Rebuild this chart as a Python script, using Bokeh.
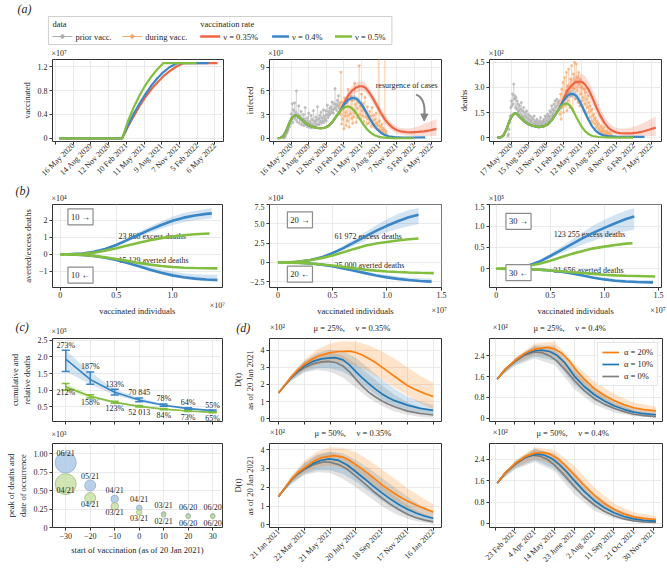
import math
from bokeh.plotting import figure
from bokeh.layouts import column, row
from bokeh.models import (Range1d, FixedTicker, Label, Legend, LegendItem,
                          ColumnDataSource, Whisker, TeeHead, Arrow, NormalHead)
from bokeh.embed import file_html
from bokeh.resources import INLINE
from bokeh.core.properties import value

# ======================= DATA =======================
# (a) time axis: days since 16 May 2020
a_ticks = [-90, 0, 90, 180, 270, 360, 450, 540, 630, 720]
a_tick_labels = ["", "16 May 2020", "14 Aug 2020", "12 Nov 2020", "10 Feb 2021", "11 May 2021",
                 "9 Aug 2021", "7 Nov 2021", "5 Feb 2022", "6 May 2022"]
a3_ticks = [-89, 1, 91, 181, 271, 361, 451, 541, 631, 721]
a3_tick_labels = ["", "17 May 2020", "15 Aug 2020", "13 Nov 2020", "11 Feb 2021", "12 May 2021",
                  "10 Aug 2021", "8 Nov 2021", "6 Feb 2022", "7 May 2022"]

# vaccinated (x10^7)
vacc_pre_days = [-70, 249]
vacc_pre = [0.0, 0.0]
vacc_035_days = [249, 279, 309, 339, 369, 399, 429, 459, 489, 519, 561, 734]
vacc_035 = [0, 0.20, 0.38, 0.55, 0.70, 0.83, 0.94, 1.04, 1.12, 1.19, 1.26, 1.26]
vacc_04_days = [249, 279, 309, 339, 369, 399, 429, 459, 489, 530, 688]
vacc_04 = [0, 0.22, 0.42, 0.59, 0.75, 0.89, 1.01, 1.11, 1.19, 1.26, 1.26]
vacc_05_days = [249, 279, 309, 339, 369, 399, 429, 459, 627]
vacc_05 = [0, 0.29, 0.53, 0.73, 0.90, 1.04, 1.16, 1.26, 1.26]

# observed infected (x10^3)
prior_inf_days = list(range(-40, 249, 3))
prior_inf = [0.05, 0.1, 0.2, 0.3, 0.5, 0.8, 0.7, 1.2, 1.0, 1.6,
             1.4, 2.2, 1.8, 3.1, 2.5, 4.4, 2.0, 3.6, 2.7, 4.5,
             2.4, 3.3, 6.0, 2.1, 3.0, 2.6, 4.1, 1.9, 2.8, 2.3,
             3.4, 1.7, 2.5, 2.0, 3.0, 1.6, 2.4, 3.9, 1.8, 2.2,
             1.5, 2.6, 1.9, 3.2, 1.4, 2.1, 1.8, 2.9, 1.3, 2.4,
             1.7, 3.5, 1.5, 2.2, 1.9, 2.7, 1.6, 2.3, 4.0, 1.8,
             2.5, 1.7, 2.9, 2.1, 3.3, 1.9, 2.6, 2.2, 3.6, 2.0,
             2.8, 2.4, 3.5, 2.2, 3.0, 4.2, 2.6, 3.4, 2.9, 3.8,
             3.1, 4.0, 3.3, 4.6, 3.6, 3.2, 4.4, 3.7, 6.3, 3.9,
             4.3, 3.5, 4.8, 4.1, 5.4, 3.8, 4.5]
during_inf_days = list(range(249, 490, 3))
during_inf = [4.2, 3.0, 8.4, 1.8, 4.6, 2.4, 3.7, 1.2, 5.1, 2.8,
              3.3, 1.6, 4.5, 2.2, 6.2, 2.9, 1.4, 4.0, 3.1, 5.3,
              2.5, 4.8, 1.9, 3.6, 2.7, 7.0, 3.2, 4.3, 2.0, 5.0,
              3.8, 2.6, 4.6, 9.2, 3.0, 4.1, 2.4, 5.6, 3.5, 2.8,
              4.4, 2.1, 3.6, 5.2, 2.7, 3.3, 1.8, 4.0, 2.5, 3.0,
              1.9, 3.4, 2.3, 2.8, 1.5, 3.9, 2.2, 1.7, 2.9, 1.4,
              2.4, 1.8, 3.2, 1.2, 2.0, 1.6, 12.0, 1.1, 2.2, 0.9,
              1.5, 1.0, 1.8, 0.7, 1.3, 0.8, 1.1, 12.0, 0.6, 0.9,
              0.5]

# observed deaths (x10^2)
prior_dth_days = list(range(-16, 249, 3))
prior_dth = [0.1, 0.2, 0.5, 0.9, 1.3, 1.8, 2.2, 1.9, 2.6, 2.0,
             3.2, 2.3, 2.5, 1.8, 2.4, 1.7, 2.2, 1.5, 2.0, 1.6,
             1.9, 1.4, 1.7, 2.1, 1.3, 1.6, 1.2, 1.8, 1.1, 1.5,
             1.3, 1.0, 1.6, 1.2, 0.9, 1.4, 1.1, 0.8, 1.3, 1.0,
             0.9, 1.2, 0.7, 1.1, 0.8, 1.3, 0.9, 0.7, 1.0, 0.8,
             1.1, 0.7, 0.9, 0.6, 1.0, 0.8, 1.2, 0.7, 0.9, 0.8,
             1.0, 0.7, 1.1, 0.9, 1.3, 0.8, 1.2, 1.0, 1.4, 0.9,
             1.3, 1.1, 1.6, 1.2, 1.5, 1.9, 1.3, 1.7, 1.4, 2.0,
             1.6, 2.2, 1.8, 1.5, 2.3, 1.9, 2.1, 1.7, 2.2]
during_dth_days = list(range(249, 520, 3))
during_dth = [2.0, 1.4, 2.6, 1.1, 2.9, 1.8, 3.3, 1.5, 2.4, 3.6,
              1.9, 2.8, 3.9, 1.6, 3.1, 2.2, 4.1, 2.7, 1.8, 3.5,
              2.5, 4.3, 3.0, 1.7, 3.8, 2.9, 4.5, 2.3, 3.4, 4.4,
              2.8, 3.6, 2.1, 3.9, 3.2, 1.9, 3.5, 2.6, 3.0, 2.2,
              3.3, 2.4, 1.6, 2.9, 2.0, 2.7, 1.4, 2.3, 1.8, 2.5,
              1.5, 2.1, 1.2, 1.9, 1.6, 1.0, 1.7, 1.3, 0.9, 1.4,
              1.1, 0.8, 1.2, 0.6, 1.0, 0.7, 0.9, 0.5, 0.8, 0.4,
              0.6, 0.3, 0.7, 0.4, 0.5, 0.3, 0.6, 0.2, 0.4, 0.3,
              0.2, 0.4, 0.1, 0.3, 0.2, 0.1, 0.3, 0.1, 0.2, 0.1,
              0.1]

# model infected (x10^3)
inf_fit_days = [-70, -55, -40, -25, -10, 5, 20, 35, 50, 70, 90, 110, 130, 150, 170, 190, 210, 230, 249]
inf_fit = [0.0, 0.05, 0.35, 1.05, 1.95, 2.65, 2.92, 2.78, 2.45, 2.0, 1.65, 1.43, 1.31, 1.27, 1.32, 1.55, 2.05, 2.75, 3.4]
inf_05_days = [249, 262, 277, 293, 310, 330, 350, 370, 390, 410, 430, 450, 480, 520, 570, 628]
inf_05 = [3.4, 3.75, 3.97, 4.02, 3.85, 3.3, 2.5, 1.75, 1.1, 0.65, 0.35, 0.18, 0.07, 0.02, 0.0, 0.0]
inf_04_days = [249, 270, 290, 310, 323, 340, 360, 380, 400, 420, 440, 460, 480, 500, 530, 570, 620, 687]
inf_04 = [3.4, 4.25, 4.85, 5.1, 5.12, 4.9, 4.3, 3.5, 2.6, 1.8, 1.15, 0.7, 0.4, 0.25, 0.15, 0.1, 0.1, 0.12]
inf_04_lo = [3.35, 4.05, 4.55, 4.75, 4.75, 4.55, 3.95, 3.2, 2.35, 1.6, 1.0, 0.58, 0.32, 0.18, 0.1, 0.06, 0.05, 0.05]
inf_04_hi = [3.45, 4.45, 5.15, 5.45, 5.5, 5.25, 4.65, 3.8, 2.85, 2.0, 1.3, 0.82, 0.5, 0.33, 0.22, 0.16, 0.17, 0.2]
inf_035_days = [249, 270, 290, 310, 330, 350, 365, 380, 400, 420, 440, 460, 480, 500, 520, 540, 560, 590, 620, 650, 680, 710, 745]
inf_035 = [3.4, 4.45, 5.35, 6.0, 6.4, 6.6, 6.6, 6.4, 5.8, 5.0, 4.1, 3.2, 2.4, 1.8, 1.35, 1.05, 0.88, 0.77, 0.75, 0.8, 0.88, 1.0, 1.2]
inf_035_lo = [3.35, 4.2, 4.9, 5.4, 5.8, 6.0, 6.0, 5.8, 5.2, 4.4, 3.5, 2.6, 1.9, 1.3, 0.9, 0.6, 0.45, 0.35, 0.3, 0.3, 0.3, 0.3, 0.3]
inf_035_hi = [3.45, 4.75, 5.85, 6.6, 7.0, 7.2, 7.2, 7.0, 6.4, 5.6, 4.7, 3.8, 3.0, 2.35, 1.85, 1.5, 1.32, 1.25, 1.3, 1.5, 1.8, 2.1, 2.4]

# model deaths (x10^2)
dth_fit_days = [-70, -55, -40, -25, -10, 5, 18, 30, 50, 70, 90, 110, 130, 150, 170, 190, 210, 230, 249]
dth_fit = [0.0, 0.01, 0.12, 0.45, 0.95, 1.3, 1.45, 1.42, 1.18, 0.96, 0.8, 0.71, 0.66, 0.64, 0.68, 0.8, 1.05, 1.4, 1.75]
dth_05_days = [249, 262, 276, 289, 305, 320, 340, 360, 380, 400, 420, 450, 500, 560, 628]
dth_05 = [1.75, 1.93, 2.03, 2.05, 1.9, 1.6, 1.15, 0.72, 0.4, 0.2, 0.1, 0.04, 0.01, 0.0, 0.0]
dth_04_days = [249, 270, 290, 305, 318, 335, 355, 375, 395, 415, 435, 455, 475, 500, 540, 600, 687]
dth_04 = [1.75, 2.2, 2.5, 2.6, 2.62, 2.5, 2.15, 1.65, 1.15, 0.72, 0.42, 0.24, 0.14, 0.09, 0.06, 0.05, 0.05]
dth_04_lo = [1.72, 2.1, 2.33, 2.4, 2.4, 2.27, 1.93, 1.46, 1.0, 0.6, 0.33, 0.17, 0.09, 0.05, 0.03, 0.02, 0.02]
dth_04_hi = [1.78, 2.3, 2.67, 2.8, 2.84, 2.73, 2.37, 1.84, 1.3, 0.84, 0.51, 0.31, 0.19, 0.13, 0.09, 0.08, 0.09]
dth_035_days = [249, 270, 290, 310, 330, 350, 365, 380, 400, 420, 440, 460, 480, 500, 520, 540, 560, 590, 620, 650, 680, 710, 745]
dth_035 = [1.75, 2.3, 2.8, 3.1, 3.3, 3.35, 3.33, 3.2, 2.85, 2.35, 1.8, 1.3, 0.9, 0.6, 0.42, 0.32, 0.27, 0.25, 0.26, 0.3, 0.37, 0.47, 0.6]
dth_035_lo = [1.72, 2.1, 2.5, 2.75, 2.9, 2.95, 2.9, 2.75, 2.4, 1.9, 1.4, 0.95, 0.6, 0.38, 0.24, 0.16, 0.12, 0.1, 0.1, 0.1, 0.1, 0.1, 0.1]
dth_035_hi = [1.78, 2.5, 3.1, 3.5, 3.7, 3.8, 3.8, 3.7, 3.35, 2.85, 2.3, 1.75, 1.3, 0.95, 0.72, 0.6, 0.55, 0.55, 0.6, 0.72, 0.88, 1.05, 1.25]

# (b) averted / excess deaths vs vaccinated individuals (x10^7)
b1_b_up_x = [0.07, 0.2, 0.3, 0.4, 0.5, 0.6, 0.7, 0.8, 0.9, 1.0, 1.1, 1.2, 1.3, 1.35]
b1_b_up = [0, 0.05, 0.15, 0.32, 0.55, 0.85, 1.15, 1.45, 1.72, 1.97, 2.15, 2.28, 2.37, 2.4]
b1_b_up_lo = [0, 0.04, 0.13, 0.28, 0.48, 0.75, 1.01, 1.27, 1.5, 1.72, 1.88, 2.0, 2.07, 2.1]
b1_b_up_hi = [0, 0.06, 0.17, 0.36, 0.62, 0.95, 1.29, 1.63, 1.94, 2.22, 2.42, 2.56, 2.66, 2.7]
b1_b_dn_x = [0.07, 0.2, 0.3, 0.4, 0.5, 0.6, 0.7, 0.8, 0.9, 1.0, 1.1, 1.2, 1.3, 1.4]
b1_b_dn = [0, -0.04, -0.1, -0.2, -0.33, -0.5, -0.7, -0.9, -1.08, -1.23, -1.34, -1.42, -1.47, -1.5]
b1_b_dn_lo = [0, -0.045, -0.11, -0.22, -0.36, -0.54, -0.75, -0.96, -1.16, -1.32, -1.44, -1.52, -1.57, -1.6]
b1_b_dn_hi = [0, -0.03, -0.08, -0.16, -0.26, -0.4, -0.56, -0.72, -0.87, -1.0, -1.1, -1.16, -1.19, -1.2]
b1_g_up_x = [0, 0.1, 0.2, 0.3, 0.4, 0.5, 0.6, 0.7, 0.8, 0.9, 1.0, 1.1, 1.2, 1.33]
b1_g_up = [0, 0.01, 0.04, 0.1, 0.22, 0.36, 0.52, 0.68, 0.83, 0.95, 1.05, 1.12, 1.18, 1.22]
b1_g_dn_x = [0, 0.1, 0.2, 0.3, 0.4, 0.5, 0.6, 0.7, 0.8, 0.9, 1.0, 1.1, 1.2, 1.3, 1.4]
b1_g_dn = [0, -0.01, -0.04, -0.09, -0.17, -0.27, -0.38, -0.5, -0.6, -0.68, -0.74, -0.78, -0.8, -0.81, -0.82]

b2_b_up_x = [0.15, 0.3, 0.4, 0.5, 0.6, 0.7, 0.8, 0.9, 1.0, 1.1, 1.2, 1.29]
b2_b_up = [0, 0.3, 0.65, 1.2, 1.85, 2.6, 3.35, 4.1, 4.75, 5.35, 5.85, 6.2]
b2_b_up_lo = [0, 0.27, 0.57, 1.04, 1.58, 2.2, 2.8, 3.4, 3.9, 4.35, 4.7, 5.0]
b2_b_up_hi = [0, 0.33, 0.73, 1.36, 2.12, 3.0, 3.9, 4.8, 5.6, 6.3, 6.8, 7.05]
b2_b_dn_x = [0.15, 0.3, 0.4, 0.5, 0.6, 0.7, 0.8, 0.9, 1.0, 1.1, 1.2, 1.3, 1.41]
b2_b_dn = [0, -0.15, -0.3, -0.5, -0.8, -1.1, -1.4, -1.7, -1.95, -2.15, -2.3, -2.42, -2.5]
b2_b_dn_lo = [0, -0.16, -0.33, -0.55, -0.86, -1.18, -1.5, -1.82, -2.08, -2.3, -2.45, -2.57, -2.65]
b2_b_dn_hi = [0, -0.13, -0.26, -0.42, -0.68, -0.94, -1.2, -1.45, -1.66, -1.83, -1.96, -2.05, -2.1]
b2_g_up_x = [0, 0.1, 0.2, 0.3, 0.4, 0.5, 0.6, 0.7, 0.8, 0.9, 1.0, 1.1, 1.2, 1.29]
b2_g_up = [0, 0.02, 0.1, 0.3, 0.55, 0.9, 1.3, 1.75, 2.15, 2.45, 2.65, 2.85, 3.0, 3.1]
b2_g_dn_x = [0, 0.2, 0.3, 0.4, 0.5, 0.6, 0.7, 0.8, 0.9, 1.0, 1.1, 1.2, 1.3, 1.43]
b2_g_dn = [0, -0.07, -0.15, -0.28, -0.42, -0.6, -0.78, -0.95, -1.08, -1.18, -1.26, -1.32, -1.36, -1.4]

b3_b_up_x = [0.1, 0.2, 0.3, 0.4, 0.5, 0.6, 0.7, 0.8, 0.9, 1.0, 1.1, 1.2, 1.276]
b3_b_up = [0, 0.03, 0.08, 0.17, 0.3, 0.44, 0.58, 0.72, 0.85, 0.96, 1.07, 1.17, 1.23]
b3_b_up_lo = [0, 0.025, 0.07, 0.14, 0.25, 0.36, 0.47, 0.57, 0.66, 0.74, 0.81, 0.88, 0.92]
b3_b_up_hi = [0, 0.035, 0.09, 0.2, 0.35, 0.52, 0.69, 0.86, 1.02, 1.15, 1.27, 1.37, 1.42]
b3_b_dn_x = [0.1, 0.3, 0.4, 0.5, 0.6, 0.7, 0.8, 0.9, 1.0, 1.1, 1.2, 1.3, 1.45]
b3_b_dn = [0, -0.01, -0.02, -0.04, -0.07, -0.11, -0.16, -0.21, -0.25, -0.28, -0.3, -0.31, -0.32]
b3_b_dn_lo = [0, -0.011, -0.022, -0.044, -0.077, -0.12, -0.175, -0.23, -0.275, -0.31, -0.33, -0.34, -0.35]
b3_b_dn_hi = [0, -0.008, -0.017, -0.034, -0.06, -0.094, -0.136, -0.18, -0.21, -0.24, -0.255, -0.265, -0.27]
b3_g_up_x = [0, 0.1, 0.2, 0.3, 0.4, 0.5, 0.6, 0.7, 0.8, 0.9, 1.0, 1.1, 1.2, 1.26]
b3_g_up = [0, 0.01, 0.03, 0.07, 0.12, 0.19, 0.27, 0.35, 0.42, 0.48, 0.52, 0.56, 0.59, 0.6]
b3_g_dn_x = [0, 0.3, 0.4, 0.5, 0.6, 0.7, 0.8, 0.9, 1.0, 1.1, 1.2, 1.3, 1.47]
b3_g_dn = [0, -0.01, -0.02, -0.04, -0.06, -0.08, -0.1, -0.12, -0.14, -0.155, -0.165, -0.17, -0.18]

# (c) start of vaccination (days relative to 20 Jan 2021)
c_start = [-30, -20, -10, 0, 10, 20, 30]
c_blue = [1.934, 1.325, 0.942, 0.708, 0.553, 0.453, 0.390]      # x10^5
c_blue_lo = [1.56, 1.18, 0.86, 0.66, 0.52, 0.43, 0.37]
c_blue_hi = [2.20, 1.55, 1.03, 0.77, 0.59, 0.48, 0.41]
c_green = [1.103, 0.822, 0.640, 0.520, 0.437, 0.380, 0.338]
c_green_lo = [1.00, 0.77, 0.61, 0.50, 0.42, 0.365, 0.325]
c_green_hi = [1.20, 0.87, 0.67, 0.545, 0.455, 0.395, 0.352]
c_blue_pct = ["273%", "187%", "133%", "70 845", "78%", "64%", "55%"]
c_green_pct = ["212%", "158%", "123%", "52 013", "84%", "73%", "65%"]
c_peak_blue = [0.88, 0.57, 0.387, 0.266, 0.184, 0.158, 0.158]   # x10^3
c_peak_green = [0.588, 0.40, 0.287, 0.206, 0.171, 0.15, 0.15]
c_date_blue = ["06/21", "05/21", "04/21", "04/21", "03/21", "06/20", "06/20"]
c_date_green = ["04/21", "04/21", "03/21", "03/21", "02/21", "06/20", "06/20"]
bubble_size = [21, 11, 7.5, 5.5, 4.5, 4.5, 4.5]

# (d) D(t), x10^2
d13_ticks = [0, 60, 120, 180, 240, 300, 360]      # days since 21 Jan 2021
d13_labels = ["21 Jan 2021", "22 Mar 2021", "21 May 2021", "20 July 2021",
              "18 Sep 2021", "17 Nov 2021", "16 Jan 2022"]
d24_ticks = [0, 40, 80, 120, 160, 200, 240, 280, 320]  # days since 14 Jan 2021
d24_labels = ["", "23 Feb 2021", "4 Apr 2021", "14 May 2021", "23 June 2021",
              "2 Aug 2021", "11 Sep 2021", "21 Oct 2021", "30 Nov 2021"]

d1_gr_x = [0, 15, 30, 45, 60, 80, 100, 116, 135, 150, 165, 180, 195, 210, 225, 240, 255, 270, 300, 330, 360]
d1_gr = [1.5, 1.95, 2.38, 2.72, 2.98, 3.2, 3.32, 3.35, 3.27, 3.08, 2.75, 2.3, 1.9, 1.55, 1.28, 1.05, 0.85, 0.69, 0.44, 0.3, 0.21]
d1_bl_x = [0, 15, 30, 45, 60, 80, 100, 120, 132, 150, 165, 180, 195, 210, 225, 240, 255, 270, 300, 330, 360]
d1_bl = [1.5, 1.97, 2.42, 2.8, 3.08, 3.35, 3.5, 3.56, 3.57, 3.44, 3.15, 2.75, 2.38, 2.05, 1.74, 1.46, 1.24, 1.05, 0.79, 0.6, 0.48]
d1_or_x = [0, 15, 30, 45, 60, 80, 100, 120, 140, 166, 180, 195, 210, 225, 240, 255, 270, 285, 300, 315, 330, 345, 360]
d1_or = [1.5, 1.98, 2.45, 2.85, 3.17, 3.5, 3.72, 3.86, 3.93, 3.95, 3.87, 3.72, 3.52, 3.3, 3.03, 2.75, 2.48, 2.2, 1.94, 1.75, 1.58, 1.43, 1.29]
d13_band_x = [0, 30, 60, 90, 120, 150, 180, 210, 240, 270, 300, 330, 360]
d1_or_lo = [1.5, 2.3, 2.85, 3.15, 3.3, 3.3, 3.1, 2.75, 2.3, 1.8, 1.35, 0.9, 0.55]
d1_or_hi = [1.5, 2.6, 3.45, 4.05, 4.4, 4.55, 4.5, 4.3, 3.95, 3.5, 3.0, 2.5, 2.1]
d1_bl_lo = [1.5, 2.25, 2.75, 2.95, 2.95, 2.75, 2.3, 1.7, 1.15, 0.75, 0.48, 0.32, 0.22]
d1_bl_hi = [1.5, 2.55, 3.35, 3.85, 4.05, 3.95, 3.55, 2.95, 2.3, 1.75, 1.3, 1.0, 0.8]
d1_gr_lo = [1.5, 2.2, 2.7, 2.85, 2.75, 2.4, 1.8, 1.2, 0.75, 0.42, 0.22, 0.1, 0.05]
d1_gr_hi = [1.5, 2.55, 3.35, 3.75, 3.85, 3.7, 3.2, 2.6, 1.95, 1.4, 0.95, 0.65, 0.45]

d3_gr_x = [0, 15, 30, 45, 60, 80, 106, 120, 140, 160, 180, 200, 220, 240, 260, 280, 300, 320, 340, 360]
d3_gr = [1.5, 1.95, 2.37, 2.7, 2.94, 3.18, 3.35, 3.33, 3.2, 2.95, 2.59, 2.2, 1.8, 1.44, 1.1, 0.82, 0.56, 0.38, 0.25, 0.16]
d3_bl_x = [0, 15, 30, 45, 60, 80, 100, 118, 140, 160, 180, 200, 220, 240, 260, 280, 300, 320, 340, 360]
d3_bl = [1.5, 1.96, 2.4, 2.73, 2.97, 3.25, 3.43, 3.5, 3.42, 3.18, 2.82, 2.45, 2.07, 1.71, 1.38, 1.08, 0.83, 0.63, 0.47, 0.35]
d3_or_x = [0, 15, 30, 45, 60, 80, 100, 129, 150, 165, 180, 200, 220, 240, 260, 280, 300, 320, 340, 360]
d3_or = [1.5, 1.97, 2.42, 2.77, 3.02, 3.35, 3.57, 3.68, 3.6, 3.43, 3.2, 2.88, 2.52, 2.15, 1.82, 1.52, 1.27, 1.05, 0.86, 0.69]
d3_or_lo = [1.5, 2.25, 2.75, 3.05, 3.15, 3.05, 2.75, 2.3, 1.8, 1.3, 0.9, 0.55, 0.3]
d3_or_hi = [1.5, 2.6, 3.4, 3.9, 4.12, 4.1, 3.85, 3.45, 2.95, 2.45, 1.95, 1.5, 1.1]
d3_bl_lo = [1.5, 2.2, 2.7, 2.9, 2.9, 2.7, 2.3, 1.8, 1.3, 0.85, 0.5, 0.28, 0.15]
d3_bl_hi = [1.5, 2.55, 3.3, 3.75, 3.9, 3.8, 3.45, 3.0, 2.5, 2.0, 1.5, 1.05, 0.7]
d3_gr_lo = [1.5, 2.15, 2.65, 2.8, 2.75, 2.45, 2.0, 1.5, 1.0, 0.6, 0.32, 0.15, 0.05]
d3_gr_hi = [1.5, 2.5, 3.25, 3.7, 3.85, 3.65, 3.25, 2.7, 2.1, 1.55, 1.05, 0.65, 0.4]

d2_gr_x = [4, 20, 40, 60, 80, 95, 110, 125, 140, 160, 180, 200, 220, 240, 260, 280, 300, 325]
d2_gr = [1.5, 1.87, 2.18, 2.43, 2.55, 2.52, 2.4, 2.2, 1.9, 1.45, 1.06, 0.76, 0.54, 0.38, 0.25, 0.15, 0.1, 0.06]
d2_bl_x = [4, 20, 40, 60, 80, 93, 110, 125, 140, 160, 180, 200, 220, 240, 260, 280, 300, 325]
d2_bl = [1.5, 1.88, 2.2, 2.47, 2.6, 2.62, 2.57, 2.42, 2.15, 1.62, 1.22, 0.91, 0.67, 0.48, 0.34, 0.23, 0.17, 0.13]
d2_or_x = [4, 20, 40, 60, 80, 106, 120, 135, 150, 165, 180, 200, 220, 240, 260, 280, 300, 325]
d2_or = [1.5, 1.89, 2.22, 2.5, 2.66, 2.73, 2.67, 2.5, 2.2, 1.82, 1.5, 1.14, 0.88, 0.68, 0.52, 0.4, 0.33, 0.28]
d24_band_x = [4, 40, 80, 120, 160, 200, 240, 280, 325]
d2_or_lo = [1.5, 2.1, 2.45, 2.4, 1.5, 0.88, 0.47, 0.23, 0.13]
d2_or_hi = [1.5, 2.32, 2.88, 2.95, 2.1, 1.42, 0.93, 0.6, 0.44]
d2_bl_lo = [1.5, 2.06, 2.38, 2.22, 1.3, 0.68, 0.32, 0.13, 0.06]
d2_bl_hi = [1.5, 2.3, 2.8, 2.8, 1.95, 1.2, 0.7, 0.38, 0.25]
d2_gr_lo = [1.5, 2.02, 2.3, 2.05, 1.12, 0.53, 0.22, 0.07, 0.02]
d2_gr_hi = [1.5, 2.3, 2.78, 2.65, 1.8, 1.05, 0.58, 0.3, 0.15]

d4_gr_x = [4, 20, 40, 60, 76, 90, 105, 120, 140, 160, 180, 200, 220, 240, 260, 280, 300, 325]
d4_gr = [1.5, 1.88, 2.2, 2.45, 2.55, 2.52, 2.4, 2.18, 1.8, 1.38, 1.0, 0.7, 0.46, 0.29, 0.17, 0.1, 0.06, 0.04]
d4_bl_x = [4, 20, 40, 60, 86, 100, 115, 130, 145, 160, 180, 200, 220, 240, 260, 280, 300, 325]
d4_bl = [1.5, 1.89, 2.22, 2.48, 2.6, 2.55, 2.42, 2.2, 1.92, 1.6, 1.2, 0.86, 0.6, 0.4, 0.26, 0.17, 0.12, 0.09]
d4_or_x = [4, 20, 40, 60, 80, 96, 110, 125, 140, 160, 180, 200, 220, 240, 260, 280, 300, 325]
d4_or = [1.5, 1.9, 2.24, 2.5, 2.63, 2.66, 2.6, 2.45, 2.2, 1.82, 1.42, 1.06, 0.76, 0.53, 0.36, 0.25, 0.19, 0.15]
d4_or_lo = [1.5, 2.1, 2.42, 2.18, 1.5, 0.8, 0.38, 0.16, 0.08]
d4_or_hi = [1.5, 2.35, 2.85, 2.75, 2.15, 1.35, 0.75, 0.42, 0.28]
d4_bl_lo = [1.5, 2.06, 2.36, 2.05, 1.28, 0.62, 0.27, 0.1, 0.04]
d4_bl_hi = [1.5, 2.32, 2.8, 2.62, 1.92, 1.12, 0.58, 0.3, 0.18]
d4_gr_lo = [1.5, 2.02, 2.3, 1.95, 1.08, 0.48, 0.19, 0.06, 0.02]
d4_gr_hi = [1.5, 2.3, 2.78, 2.52, 1.72, 0.95, 0.48, 0.23, 0.12]

# ======================= STYLE / LAYOUT HELPERS =======================
FONT = "Liberation Serif"
TXT = "#262626"
C035 = "#f06543"
C04 = "#3a86c6"
C05 = "#82be3f"
GREY_D = "#ababab"
ORNG_D = "#f7a96b"
D_OR = "#ff7f0e"
D_BL = "#1f77b4"
D_GR = "#7f7f7f"
NB = "\u00a0"

KX = 666.0 / 667.0
KY = 572.0 / 573.0
TOTAL_W = 666


def lx(X):
    return X * KX


def ly(Y):
    return Y * KY


META = {}


def mkfig(cell, frame, xr, yr):
    cx0, cy0, cx1, cy1 = cell
    fx0, fy0, fx1, fy1 = frame
    W = round(lx(cx1)) - round(lx(cx0))
    H = round(ly(cy1)) - round(ly(cy0))
    p = figure(width=W, height=H, x_range=Range1d(*xr), y_range=Range1d(*yr),
               output_backend="svg", toolbar_location=None,
               min_border_left=round(lx(fx0)) - round(lx(cx0)),
               min_border_right=round(lx(cx1)) - round(lx(fx1)),
               min_border_top=round(ly(fy0)) - round(ly(cy0)),
               min_border_bottom=round(ly(cy1)) - round(ly(fy1)))
    p.outline_line_color = "#333333"
    p.outline_line_width = 1
    p.background_fill_color = "white"
    p.border_fill_color = "white"
    p.grid.grid_line_color = "#e4e4e4"
    p.grid.grid_line_width = 0.8
    for ax in p.axis:
        ax.axis_line_color = None
        ax.major_tick_line_color = "#333333"
        ax.major_tick_out = 3
        ax.major_tick_in = 0
        ax.minor_tick_line_color = None
        ax.major_label_text_font = FONT
        ax.major_label_text_font_size = "8px"
        ax.major_label_text_color = TXT
        ax.major_label_standoff = 2
        ax.axis_label_text_font = FONT
        ax.axis_label_text_font_size = "8.5px"
        ax.axis_label_text_font_style = "normal"
        ax.axis_label_text_color = TXT
        ax.axis_label_standoff = 3
    META[p.id] = (frame, xr, yr)
    return p


def strip(y0, y1):
    H = round(ly(y1)) - round(ly(y0))
    s = figure(width=TOTAL_W, height=H, x_range=Range1d(0, 667), y_range=Range1d(y1, y0),
               output_backend="svg", toolbar_location=None, min_border=0,
               x_axis_type=None, y_axis_type=None)
    s.grid.visible = False
    s.outline_line_color = None
    s.border_fill_color = "white"
    s.background_fill_color = "white"
    return s


def stext(s, xs, ys, texts, size="8px", align="left", style="normal"):
    s.text(x=list(xs), y=list(ys), text=list(texts), text_font=value(FONT),
           text_font_size=value(size), text_align=align, text_baseline="middle",
           text_font_style=style, text_color=TXT)


def set_ticks(p, xt, xl, yt, yl):
    tx = FixedTicker(ticks=list(xt))
    p.xaxis[0].ticker = tx
    p.xgrid[0].ticker = tx
    p.xaxis[0].major_label_overrides = dict(zip(xt, xl))
    ty = FixedTicker(ticks=list(yt))
    p.yaxis[0].ticker = ty
    p.ygrid[0].ticker = ty
    p.yaxis[0].major_label_overrides = dict(zip(yt, yl))


def to_data(p, X, Y):
    (fx0, fy0, fx1, fy1), xr, yr = META[p.id]
    x = xr[0] + (X - fx0) / (fx1 - fx0) * (xr[1] - xr[0])
    y = yr[1] - (Y - fy0) / (fy1 - fy0) * (yr[1] - yr[0])
    return x, y


def px_dy(p, n):
    (fx0, fy0, fx1, fy1), xr, yr = META[p.id]
    return n * (yr[1] - yr[0]) / (fy1 - fy0)


def note(p, X, Y, text, size="8px", align="left", style="normal", **kw):
    x, y = to_data(p, X, Y)
    p.add_layout(Label(x=x, y=y, text=text, text_font=FONT, text_font_size=size,
                       text_align=align, text_baseline="middle", text_font_style=style,
                       text_color=TXT, **kw))


def gtext(p, X, Y, text, size="8px", align="center"):
    x, y = to_data(p, X, Y)
    p.text(x=[x], y=[y], text=[text], text_font=value(FONT), text_font_size=value(size),
           text_align=align, text_baseline="middle", text_color=TXT)


def hide_xlabels(p, ticks_):
    p.xaxis[0].major_label_overrides = {t: "" for t in ticks_}
    p.xaxis[0].major_label_text_font_size = "0px"
    p.xaxis[0].major_label_standoff = 0


def rot_x(p):
    p.xaxis[0].major_label_orientation = math.pi / 4
    p.xaxis[0].major_label_standoff = 0
    p.xaxis[0].major_label_text_font_size = "8px"


# ======================= STRIP 0: legend + (a) header =======================
s0 = strip(0, 57)
s0.quad(left=[48], right=[392], top=[16], bottom=[44], fill_color="white",
        line_color="#cfcfcf", line_width=1)
stext(s0, [52, 200], [23.5, 23.5], ["data", "vaccination rate"], size="8.5px")
s0.line(x=[52, 72], y=[36, 36], line_color=GREY_D, line_width=1.2)
s0.scatter(x=[62], y=[36], size=3.5, color=GREY_D)
s0.line(x=[122, 142], y=[36, 36], line_color=ORNG_D, line_width=1.2)
s0.scatter(x=[132], y=[36], size=3.5, color=ORNG_D)
s0.line(x=[200, 220], y=[36, 36], line_color=C035, line_width=2.4)
s0.line(x=[272, 289], y=[36, 36], line_color=C04, line_width=2.4)
s0.line(x=[335, 352], y=[36, 36], line_color=C05, line_width=2.4)
stext(s0, [75, 145, 223, 292, 355], [36] * 5,
      ["prior vacc.", "during vacc.", "\u03bd = 0.35%", "\u03bd = 0.4%", "\u03bd = 0.5%"], size="8.5px")
stext(s0, [17], [8.5], ["(a)"], size="12px", style="italic")
stext(s0, [51, 268, 489], [52.5] * 3, ["\u00d710\u2077", "\u00d710\u00b3", "\u00d710\u00b2"])

# ======================= ROW (a) =======================
a1 = mkfig((0, 57, 240, 184), (52, 59, 223, 143), (-105.2, 764.0), (-0.054, 1.32))
set_ticks(a1, a_ticks, a_tick_labels, [0, 0.4, 0.8, 1.2], ["0", "0.4", "0.8", "1.2"])
rot_x(a1)
a1.yaxis[0].axis_label = "vaccinated"
a1.line(vacc_pre_days + vacc_035_days, vacc_pre + vacc_035, line_color=C035, line_width=2.2)
a1.line(vacc_pre_days + vacc_04_days, vacc_pre + vacc_04, line_color=C04, line_width=2.2)
a1.line(vacc_pre_days + vacc_05_days, vacc_pre + vacc_05, line_color=C05, line_width=2.2)

a2 = mkfig((240, 57, 452, 184), (269, 59, 442, 143), (-112.3, 770.8), (-0.41, 9.99))
set_ticks(a2, a_ticks, a_tick_labels, [0, 3, 6, 9], ["0", "3", "6", "9"])
rot_x(a2)
a2.yaxis[0].axis_label = "infected"
a2.line(prior_inf_days, prior_inf, line_color=GREY_D, line_width=0.6, line_alpha=0.55)
a2.scatter(prior_inf_days, prior_inf, size=2.2, color=GREY_D, alpha=0.6)
a2.line(during_inf_days, during_inf, line_color=ORNG_D, line_width=0.6, line_alpha=0.55)
a2.scatter(during_inf_days, during_inf, size=2.2, color=ORNG_D, alpha=0.6)
a2.varea(x=inf_035_days, y1=inf_035_lo, y2=inf_035_hi, fill_color=C035, fill_alpha=0.22)
a2.varea(x=inf_04_days, y1=inf_04_lo, y2=inf_04_hi, fill_color=C04, fill_alpha=0.25)
a2.line(inf_fit_days + inf_035_days, inf_fit + inf_035, line_color=C035, line_width=2.2)
a2.line(inf_fit_days + inf_04_days, inf_fit + inf_04, line_color=C04, line_width=2.2)
a2.line(inf_fit_days + inf_05_days, inf_fit + inf_05, line_color=C05, line_width=2.2)
note(a2, 407, 86, "resurgence of cases", align="center")
bx0, by0 = to_data(a2, 416.5, 95)
bc1x, bc1y = to_data(a2, 424, 98)
bc2x, bc2y = to_data(a2, 425.5, 107)
bx1, by1 = to_data(a2, 424.8, 116)
a2.bezier(x0=[bx0], y0=[by0], x1=[bx1], y1=[by1], cx0=[bc1x], cy0=[bc1y], cx1=[bc2x], cy1=[bc2y],
          line_color="#858585", line_width=2)
hx0, hy0 = to_data(a2, 424.8, 114)
hx1, hy1 = to_data(a2, 424.6, 122)
a2.add_layout(Arrow(end=NormalHead(size=7, fill_color="#858585", line_color="#858585"),
                    x_start=hx0, y_start=hy0, x_end=hx1, y_end=hy1,
                    line_color="#858585", line_width=2))

a3 = mkfig((452, 57, 667, 184), (490, 59, 662, 143), (-110.7, 774.5), (-0.23, 4.67))
set_ticks(a3, a3_ticks, a3_tick_labels, [0, 1.5, 3, 4.5], ["0", "1.5", "3.0", "4.5"])
rot_x(a3)
a3.yaxis[0].axis_label = "deaths"
a3.line(prior_dth_days, prior_dth, line_color=GREY_D, line_width=0.6, line_alpha=0.55)
a3.scatter(prior_dth_days, prior_dth, size=2.2, color=GREY_D, alpha=0.6)
a3.line(during_dth_days, during_dth, line_color=ORNG_D, line_width=0.6, line_alpha=0.55)
a3.scatter(during_dth_days, during_dth, size=2.2, color=ORNG_D, alpha=0.6)
a3.varea(x=dth_035_days, y1=dth_035_lo, y2=dth_035_hi, fill_color=C035, fill_alpha=0.22)
a3.varea(x=dth_04_days, y1=dth_04_lo, y2=dth_04_hi, fill_color=C04, fill_alpha=0.25)
a3.line(dth_fit_days + dth_035_days, dth_fit + dth_035, line_color=C035, line_width=2.2)
a3.line(dth_fit_days + dth_04_days, dth_fit + dth_04, line_color=C04, line_width=2.2)
a3.line(dth_fit_days + dth_05_days, dth_fit + dth_05, line_color=C05, line_width=2.2)

# ======================= STRIP 1: (b) header =======================
s1 = strip(184, 203)
stext(s1, [15], [190], ["(b)"], size="12px", style="italic")
stext(s1, [51, 268, 489], [198] * 3, ["\u00d710\u2074", "\u00d710\u2074", "\u00d710\u2075"])

# ======================= ROW (b) =======================
def b_panel(cell, frame, xr, yr, xt, xl, yt, yl, up, dn):
    p = mkfig(cell, frame, xr, yr)
    set_ticks(p, xt, xl, yt, yl)
    p.xaxis[0].major_label_standoff = 1
    ux, uy, ulo, uhi = up
    dx, dy, dlo, dhi = dn
    p.varea(x=ux, y1=ulo, y2=uhi, fill_color=C04, fill_alpha=0.22)
    p.varea(x=dx, y1=dlo, y2=dhi, fill_color=C04, fill_alpha=0.22)
    return p


b1 = b_panel((0, 203, 240, 303), (52, 204, 222, 288), (-0.068, 1.445), (-1.94, 2.92),
             [0, 0.5, 1], ["0", "0.5", "1.0"], [-1, 0, 1, 2], ["\u22121", "0", "1", "2"],
             (b1_b_up_x, b1_b_up, b1_b_up_lo, b1_b_up_hi), (b1_b_dn_x, b1_b_dn, b1_b_dn_lo, b1_b_dn_hi))
b1.yaxis[0].axis_label = "averted/excess deaths"
gtext(b1, 151.7, 236, "23 868 excess deaths")
gtext(b1, 153, 261, "15 129 averted deaths")
b1.line(b1_b_up_x, b1_b_up, line_color=C04, line_width=2.6)
b1.line(b1_b_dn_x, b1_b_dn, line_color=C04, line_width=2.6)
b1.line(b1_g_up_x, b1_g_up, line_color=C05, line_width=2.6)
b1.line(b1_g_dn_x, b1_g_dn, line_color=C05, line_width=2.6)

b2 = b_panel((240, 203, 452, 303), (269, 204, 442, 288), (-0.077, 1.501), (-3.27, 7.52),
             [0, 0.5, 1, 1.5], ["0", "0.5", "1.0", "1.5"], [-2.5, 0, 2.5, 5, 7.5],
             ["\u22122.5", "0", "2.5", "5.0", "7.5"],
             (b2_b_up_x, b2_b_up, b2_b_up_lo, b2_b_up_hi), (b2_b_dn_x, b2_b_dn, b2_b_dn_lo, b2_b_dn_hi))
gtext(b2, 368.3, 236.7, "61 972 excess deaths")
gtext(b2, 369.5, 265.7, "25 000 averted deaths")
b2.line(b2_b_up_x, b2_b_up, line_color=C04, line_width=2.6)
b2.line(b2_b_dn_x, b2_b_dn, line_color=C04, line_width=2.6)
b2.line(b2_g_up_x, b2_g_up, line_color=C05, line_width=2.6)
b2.line(b2_g_dn_x, b2_g_dn, line_color=C05, line_width=2.6)

b3 = b_panel((452, 203, 667, 303), (490, 204, 662, 288), (-0.062, 1.528), (-0.44, 1.51),
             [0, 0.5, 1, 1.5], ["0", "0.5", "1.0", "1.5"], [0, 0.5, 1, 1.5], ["0", "0.5", "1.0", "1.5"],
             (b3_b_up_x, b3_b_up, b3_b_up_lo, b3_b_up_hi), (b3_b_dn_x, b3_b_dn, b3_b_dn_lo, b3_b_dn_hi))
gtext(b3, 590, 234.3, "123 255 excess deaths")
gtext(b3, 589, 271, "31 656 averted deaths")
b3.line(b3_b_up_x, b3_b_up, line_color=C04, line_width=2.6)
b3.line(b3_b_dn_x, b3_b_dn, line_color=C04, line_width=2.6)
b3.line(b3_g_up_x, b3_g_up, line_color=C05, line_width=2.6)
b3.line(b3_g_dn_x, b3_g_dn, line_color=C05, line_width=2.6)

box_kw = dict(border_line_color="#8c8c8c", border_line_width=1.2, background_fill_color="white",
              padding=3)
note(b1, 80, 216.5, "10 \u2192", size="8.5px", align="center", **box_kw)
note(b1, 80, 275.5, "10 \u2190", size="8.5px", align="center", **box_kw)
note(b2, 299.6, 219.5, "20 \u2192", size="8.5px", align="center", **box_kw)
note(b2, 299.6, 274.5, "20 \u2190", size="8.5px", align="center", **box_kw)
note(b3, 519, 221, "30 \u2192", size="8.5px", align="center", **box_kw)
note(b3, 519, 273, "30 \u2190", size="8.5px", align="center", **box_kw)

# ======================= STRIP 2: (b) x labels + (c)/(d) header =======================
s2 = strip(303, 336)
stext(s2, [137, 355.5, 576], [311] * 3, ["vaccinated individuals"] * 3, size="8.5px", align="center")
stext(s2, [225, 447, 666], [305.5, 311, 311], ["\u00d710\u2077"] * 3, align="right")
stext(s2, [15, 236], [327.5, 328], ["(c)", "(d)"], size="12px", style="italic")
stext(s2, [51, 270, 493], [332, 328, 328], ["\u00d710\u2075", "\u00d710\u00b2", "\u00d710\u00b2"])
stext(s2, [352, 570], [328, 328],
      ["\u03bc = 25%," + NB * 5 + "\u03bd = 0.35%", "\u03bc = 25%," + NB * 5 + "\u03bd = 0.4%"],
      size="8.5px", align="center")

# ======================= ROW (c)/(d) top =======================
c1 = mkfig((0, 336, 228, 427), (52, 339, 222, 422), (-35.4, 34.0), (0.066, 2.55))
set_ticks(c1, c_start, [""] * 7, [0.5, 1, 1.5, 2, 2.5], ["0.5", "1.0", "1.5", "2.0", "2.5"])
hide_xlabels(c1, c_start)
c1.yaxis[0].axis_label = "cumulative and\nrelative deaths"
c1.varea(x=c_start, y1=c_blue_lo, y2=c_blue_hi, fill_color=C04, fill_alpha=0.22)
c1.varea(x=c_start, y1=c_green_lo, y2=c_green_hi, fill_color=C05, fill_alpha=0.22)
c1.line(c_start, c_blue, line_color=C04, line_width=1.7)
c1.line(c_start, c_green, line_color=C05, line_width=1.7)
for col, lo, hi in [(C04, c_blue_lo, c_blue_hi), (C05, c_green_lo, c_green_hi)]:
    src = ColumnDataSource(dict(x=c_start, lo=lo, hi=hi))
    c1.add_layout(Whisker(source=src, base="x", lower="lo", upper="hi", line_color=col, line_width=1.5,
                          upper_head=TeeHead(size=8, line_color=col, line_width=1.5),
                          lower_head=TeeHead(size=8, line_color=col, line_width=1.5)))
c1.text(x=c_start, y=[h + px_dy(c1, 5) for h in c_blue_hi], text=c_blue_pct,
        text_font=value(FONT), text_font_size=value("8px"), text_align="center",
        text_baseline="middle", text_color=TXT)
c1.text(x=c_start, y=[v - px_dy(c1, 6) for v in c_green], text=c_green_pct,
        text_font=value(FONT), text_font_size=value("8px"), text_align="center",
        text_baseline="middle", text_color=TXT)


def d_draw(p, bx, bands, curves):
    for (lo, hi), col, al in zip(bands, [D_GR, D_BL, D_OR], [0.22, 0.2, 0.22]):
        p.varea(x=bx, y1=lo, y2=hi, fill_color=col, fill_alpha=al)
    rs = []
    for (cx, cy), col in zip(curves, [D_GR, D_BL, D_OR]):
        rs.append(p.line(cx, cy, line_color=col, line_width=1.7))
    return rs


d1 = mkfig((228, 336, 452, 427), (269, 337, 442, 422), (-20.9, 379.4), (-0.17, 4.69))
set_ticks(d1, d13_ticks, [""] * 7, [0, 1, 2, 3, 4], ["0", "1", "2", "3", "4"])
hide_xlabels(d1, d13_ticks)
d1.yaxis[0].axis_label = "D(t)\nas of 20 Jan 2021"
d_draw(d1, d13_band_x, [(d1_gr_lo, d1_gr_hi), (d1_bl_lo, d1_bl_hi), (d1_or_lo, d1_or_hi)],
       [(d1_gr_x, d1_gr), (d1_bl_x, d1_bl), (d1_or_x, d1_or)])

d2 = mkfig((452, 336, 667, 427), (490, 337, 663, 422), (-11.5, 338.2), (-0.13, 3.07))
set_ticks(d2, d24_ticks, [""] * 9, [0, 0.8, 1.6, 2.4], ["0", "0.8", "1.6", "2.4"])
hide_xlabels(d2, d24_ticks)
r_gr, r_bl, r_or = d_draw(d2, d24_band_x, [(d2_gr_lo, d2_gr_hi), (d2_bl_lo, d2_bl_hi), (d2_or_lo, d2_or_hi)],
                          [(d2_gr_x, d2_gr), (d2_bl_x, d2_bl), (d2_or_x, d2_or)])
lg = Legend(items=[LegendItem(label="\u03b1 = 20%", renderers=[r_or]),
                   LegendItem(label="\u03b1 = 10%", renderers=[r_bl]),
                   LegendItem(label="\u03b1 = 0%", renderers=[r_gr])],
            location="top_right")
lg.label_text_font = FONT
lg.label_text_font_size = "8.5px"
lg.label_text_color = TXT
lg.glyph_width = 17
lg.glyph_height = 10
lg.label_height = 10
lg.label_standoff = 5
lg.spacing = 2
lg.padding = 4
lg.margin = 4
lg.border_line_color = "#cccccc"
lg.background_fill_alpha = 0.9
d2.add_layout(lg)

# ======================= STRIP 3: bottom header =======================
s3 = strip(427, 439)
stext(s3, [51, 270, 493], [434.5, 433, 433], ["\u00d710\u00b3", "\u00d710\u00b2", "\u00d710\u00b2"])
stext(s3, [353, 573], [433, 433],
      ["\u03bc = 50%," + NB * 5 + "\u03bd = 0.35%", "\u03bc = 50%," + NB * 5 + "\u03bd = 0.4%"],
      size="8.5px", align="center")

# ======================= ROW (c)/(d) bottom =======================
c2 = mkfig((0, 439, 228, 573), (52, 440, 222, 528), (-35.4, 34.0), (0.0, 1.138))
set_ticks(c2, c_start, ["\u221230", "\u221220", "\u221210", "0", "10", "20", "30"],
          [0, 0.25, 0.5, 0.75, 1], ["0", "0.25", "0.50", "0.75", "1.00"])
c2.xaxis[0].axis_label = "start of vaccination (as of 20 Jan 2021)"
c2.yaxis[0].axis_label = "peak of deaths and\ndate of occurrence"
c2.scatter(c_start, c_peak_blue, size=bubble_size, fill_color="#a3c1e6", fill_alpha=0.75,
           line_color="#8ea9cc", line_width=0.8)
c2.scatter(c_start, c_peak_green, size=bubble_size, fill_color="#c2dc9c", fill_alpha=0.75,
           line_color="#a3bd83", line_width=0.8)
c2.text(x=c_start, y=[v + px_dy(c2, 9) for v in c_peak_blue], text=c_date_blue,
        text_font=value(FONT), text_font_size=value("8px"), text_align="center",
        text_baseline="middle", text_color=TXT)
c2.text(x=c_start, y=[v - px_dy(c2, 7) for v in c_peak_green], text=c_date_green,
        text_font=value(FONT), text_font_size=value("8px"), text_align="center",
        text_baseline="middle", text_color=TXT)

d3 = mkfig((228, 439, 452, 573), (269, 444, 442, 528), (-20.9, 379.4), (-0.14, 4.32))
set_ticks(d3, d13_ticks, d13_labels, [0, 1, 2, 3, 4], ["0", "1", "2", "3", "4"])
rot_x(d3)
d3.yaxis[0].axis_label = "D(t)\nas of 20 Jan 2021"
d_draw(d3, d13_band_x, [(d3_gr_lo, d3_gr_hi), (d3_bl_lo, d3_bl_hi), (d3_or_lo, d3_or_hi)],
       [(d3_gr_x, d3_gr), (d3_bl_x, d3_bl), (d3_or_x, d3_or)])

d4 = mkfig((452, 439, 667, 573), (490, 444, 663, 529), (-11.5, 338.2), (-0.15, 2.99))
set_ticks(d4, d24_ticks, d24_labels, [0, 0.8, 1.6, 2.4], ["0", "0.8", "1.6", "2.4"])
rot_x(d4)
d_draw(d4, d24_band_x, [(d4_gr_lo, d4_gr_hi), (d4_bl_lo, d4_bl_hi), (d4_or_lo, d4_or_hi)],
       [(d4_gr_x, d4_gr), (d4_bl_x, d4_bl), (d4_or_x, d4_or)])

# ======================= ASSEMBLE =======================
page = column(s0, row(a1, a2, a3), s1, row(b1, b2, b3), s2, row(c1, d1, d2), s3, row(c2, d3, d4))
open("out.html", "w").write(file_html(page, INLINE, title="vaccination scenarios"))
